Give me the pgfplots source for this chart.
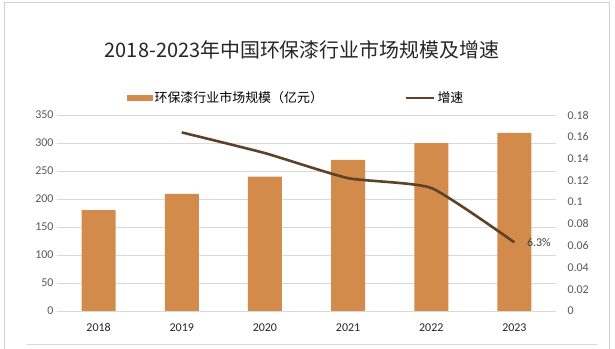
\documentclass[border=0pt]{standalone}
\usepackage{pgfplots}
\pgfplotsset{compat=1.18}
\usepackage{fontspec}
\setmainfont{Carlito}
\newfontfamily\cjk{Noto Sans CJK SC}
\definecolor{barc}{HTML}{D38B4C}
\definecolor{linec}{HTML}{5E4129}
\definecolor{gridc}{HTML}{D9D9D9}
\definecolor{tickc}{HTML}{595959}
\definecolor{framec}{HTML}{D0D0D0}
\begin{document}
\begin{tikzpicture}
\path[use as bounding box, fill=white] (0,0) rectangle (615bp,349bp);
\draw[framec, line width=0.8bp] (4bp,0) -- (4bp,346.5bp) -- (609bp,346.5bp) -- (609bp,0);
\draw[gridc, line width=0.8bp] (27bp,5bp) -- (597bp,5bp);
\node[font=\cjk\fontsize{20}{24}\selectfont, text=black!85] at (302bp,299bp) {2018-2023年中国环保漆行业市场规模及增速};
\begin{axis}[
  at={(57bp,38bp)}, anchor=south west, scale only axis,
  width=499bp, height=196bp,
  xmin=-0.5, xmax=5.5, ymin=0, ymax=350,
  ytick={0,50,...,350},
  xtick={0,...,5}, xticklabels={2018,2019,2020,2021,2022,2023},
  axis line style={draw=none}, tick style={draw=none},
  ymajorgrids, grid style={gridc, line width=0.8bp},
  /pgf/number format/assume math mode=true,
  yticklabel style={font=\fontsize{12}{14}\selectfont, text=tickc},
  xticklabel style={font=\fontsize{12}{14}\selectfont, text=black!85, yshift=-9bp},
  legend style={at={(0.479,1.087)}, anchor=center, draw=none, fill=none,
    font=\cjk\fontsize{13}{15}\selectfont, legend columns=2,
    /tikz/every even column/.append style={column sep=80bp},
    inner sep=0pt, cells={anchor=west}},
]
\addplot[ybar, fill=barc, draw=none, bar width=34bp,
  legend image code/.code={\fill[barc] (0bp,-3bp) rectangle (26bp,3bp);}]
  coordinates {(0,180) (1,209) (2,240) (3,270) (4,300) (5,318)};
\addlegendentry{环保漆行业市场规模（亿元）}
\addlegendimage{linec, line width=2.6bp, legend image code/.code={\draw[linec, line width=2.6bp] (0bp,0bp) -- (28bp,0bp);}}
\addlegendentry{增速}
\end{axis}
\begin{axis}[
  at={(57bp,38bp)}, anchor=south west, scale only axis,
  width=499bp, height=196bp,
  xmin=-0.5, xmax=5.5, ymin=0, ymax=0.18,
  axis y line*=right, axis x line=none,
  xtick=\empty,
  ytick={0,0.02,0.04,0.06,0.08,0.1,0.12,0.14,0.16,0.18},
  yticklabels={0,0.02,0.04,0.06,0.08,0.1,0.12,0.14,0.16,0.18},
  axis line style={draw=none}, tick style={draw=none},
  yticklabel style={font=\fontsize{12}{14}\selectfont, text=tickc, xshift=8bp},
]
\addplot[linec, line width=2.6bp, smooth, tension=0.3]
  coordinates {(1,0.164) (2,0.145) (3,0.122) (4,0.113) (5,0.063)}
  node[pos=1, anchor=west, xshift=8bp, font=\fontsize{12}{14}\selectfont, text=black!75] {6.3\%};
\end{axis}
\end{tikzpicture}
\end{document}
